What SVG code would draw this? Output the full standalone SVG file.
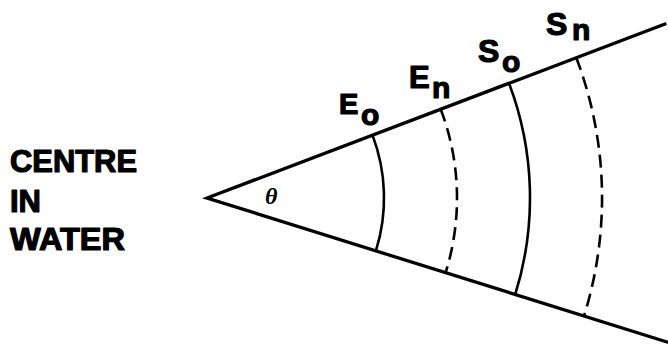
<svg xmlns="http://www.w3.org/2000/svg" width="668" height="349" viewBox="0 0 668 349">
<style>
.lbl{font-family:"Liberation Sans",Arial,sans-serif;font-weight:bold;fill:#000;stroke:#000;stroke-width:1.2;stroke-linejoin:round}
.edge{stroke:#000;stroke-width:3.3;fill:none;stroke-linecap:round}
.arc{stroke:#000;stroke-width:2.6;fill:none}
.dash{stroke-dasharray:13 7}
</style>
<rect width="668" height="349" fill="#fff"/>
<g id="centre-label">
<text class="lbl" font-size="31" x="10" y="172" textLength="127" lengthAdjust="spacingAndGlyphs">CENTRE</text>
<text class="lbl" font-size="31" x="10" y="212">IN</text>
<text class="lbl" font-size="31" x="10" y="250" textLength="115" lengthAdjust="spacingAndGlyphs">WATER</text>
</g>
<g id="connectors">
<path class="edge" d="M665 24 L207 198 L667 342"/>
</g>
<g id="theta">
<text x="265" y="204" font-family="'Liberation Serif','Times New Roman',serif" font-style="italic" font-weight="bold" font-size="24">θ</text>
</g>
<g id="Eo">
<path class="arc" d="M372.5 135.1 A177 177 0 0 1 375.9 250.9"/>
<text class="lbl" font-size="29" x="339" y="114">E</text>
<text class="lbl" font-size="30" x="361" y="125">o</text>
</g>
<g id="En">
<path class="arc dash" d="M440.7 109.2 A250 250 0 0 1 445.6 272.7"/>
<text class="lbl" font-size="31" x="409" y="88">E</text>
<text class="lbl" font-size="30" x="432" y="98">n</text>
</g>
<g id="So">
<path class="arc" d="M509 83.3 A323 323 0 0 1 515.2 294.5"/>
<text class="lbl" font-size="32" x="478" y="62">S</text>
<text class="lbl" font-size="30" x="502" y="72">o</text>
</g>
<g id="Sn">
<path class="arc dash" d="M576.3 57.7 A395 395 0 0 1 584 316"/>
<text class="lbl" font-size="32" x="546" y="35">S</text>
<text class="lbl" font-size="30" x="572" y="40">n</text>
</g>
</svg>
